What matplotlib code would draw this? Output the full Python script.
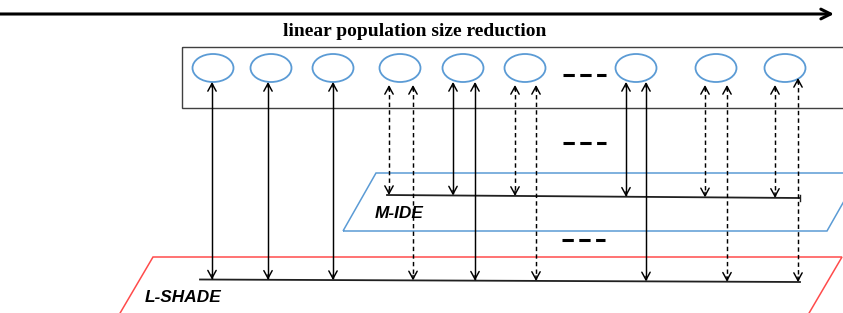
import numpy as np
import matplotlib
matplotlib.use("Agg")
import matplotlib.pyplot as plt
from matplotlib.patches import Ellipse, Polygon, Rectangle

# ---- diagram content ----
title_text = "linear population size reduction"
label_mide = "M-IDE"
label_lshade = "L-SHADE"

ellipse_x = [213, 271, 333, 400, 463, 525, 636, 716, 785]

arrow_x = [212, 268, 333, 389, 413, 453, 475, 515, 536, 626, 646, 705, 727, 775, 798]
arrow_dashed = [0, 0, 0, 1, 1, 0, 0, 1, 1, 0, 0, 1, 1, 1, 1]
arrow_target = ['L', 'L', 'L', 'M', 'L', 'M', 'L', 'M', 'L', 'M', 'L', 'M', 'L', 'M', 'L']
arrow_top = [82, 82, 82, 85, 85, 82, 82, 85, 85, 82, 82, 85, 85, 85, 78]

mide_line = ([387, 800], [195, 198])
lshade_line = ([200, 800], [279.5, 282])

dash_groups = [(563, 606, 75), (563, 606, 143), (562, 605, 240)]

BLUE = '#5B9BD5'
RED = '#FF4B4B'

fig = plt.figure(figsize=(8.43, 3.13), dpi=100)
ax = fig.add_axes([0, 0, 1, 1])
ax.set_xlim(0, 843)
ax.set_ylim(313, 0)
ax.axis('off')

# top arrow
ax.annotate('', xy=(834, 14), xytext=(0, 14),
            arrowprops=dict(arrowstyle='->,head_length=0.7,head_width=0.35',
                            lw=2.2, color='black', shrinkA=0, shrinkB=0))
ax.text(415, 31, title_text, ha='center', va='center', fontsize=14,
        fontweight='bold', family='Liberation Serif')

# population box
ax.add_patch(Rectangle((182, 47), 700, 61, fill=False, ec='#404040', lw=1.0))
for ex in ellipse_x:
    ax.add_patch(Ellipse((ex, 68), 41, 28, fill=False, ec=BLUE, lw=1.3))

# parallelograms
ax.add_patch(Polygon([(343, 231), (376, 173), (860, 173), (827, 231)],
                     closed=True, fill=False, ec=BLUE, lw=1.1))
ax.add_patch(Polygon([(116, 320), (153, 257), (842, 257), (805, 320)],
                     closed=True, fill=False, ec=RED, lw=1.1))

# horizontal lines
ax.plot(*mide_line, color='#202020', lw=1.3)
ax.plot(*lshade_line, color='#202020', lw=1.3)
ax.plot([800, 800], [195, 201], color='#202020', lw=1.0)

# dashes ("- - -")
for x0, x1, y in dash_groups:
    ax.plot([x0, x1], [y, y], color='black', lw=2.2, ls=(0, (3.7, 1.8)),
            solid_capstyle='butt', dash_capstyle='butt')

head = '->,head_length=0.55,head_width=0.3'
for x, d, t, ytop in zip(arrow_x, arrow_dashed, arrow_target, arrow_top):
    lx, ly = mide_line if t == 'M' else lshade_line
    ybot = float(np.interp(x, lx, ly))
    ls = (0, (3.0, 2.2)) if d else '-'
    ax.plot([x, x], [ytop + 2, ybot - 2], color='black', lw=1.05, ls=ls)
    for tip, tail in ((ytop, ytop + 5), (ybot, ybot - 5)):
        ax.annotate('', xy=(x, tip), xytext=(x, tail),
                    arrowprops=dict(arrowstyle=head, lw=1.05, color='black',
                                    shrinkA=0, shrinkB=0))

ax.text(375, 213, label_mide, ha='left', va='center', fontsize=12.4,
        fontweight='bold', fontstyle='italic', family='Liberation Sans')
ax.text(145, 297, label_lshade, ha='left', va='center', fontsize=12.4,
        fontweight='bold', fontstyle='italic', family='Liberation Sans')

fig.savefig('out.png', dpi=100)
